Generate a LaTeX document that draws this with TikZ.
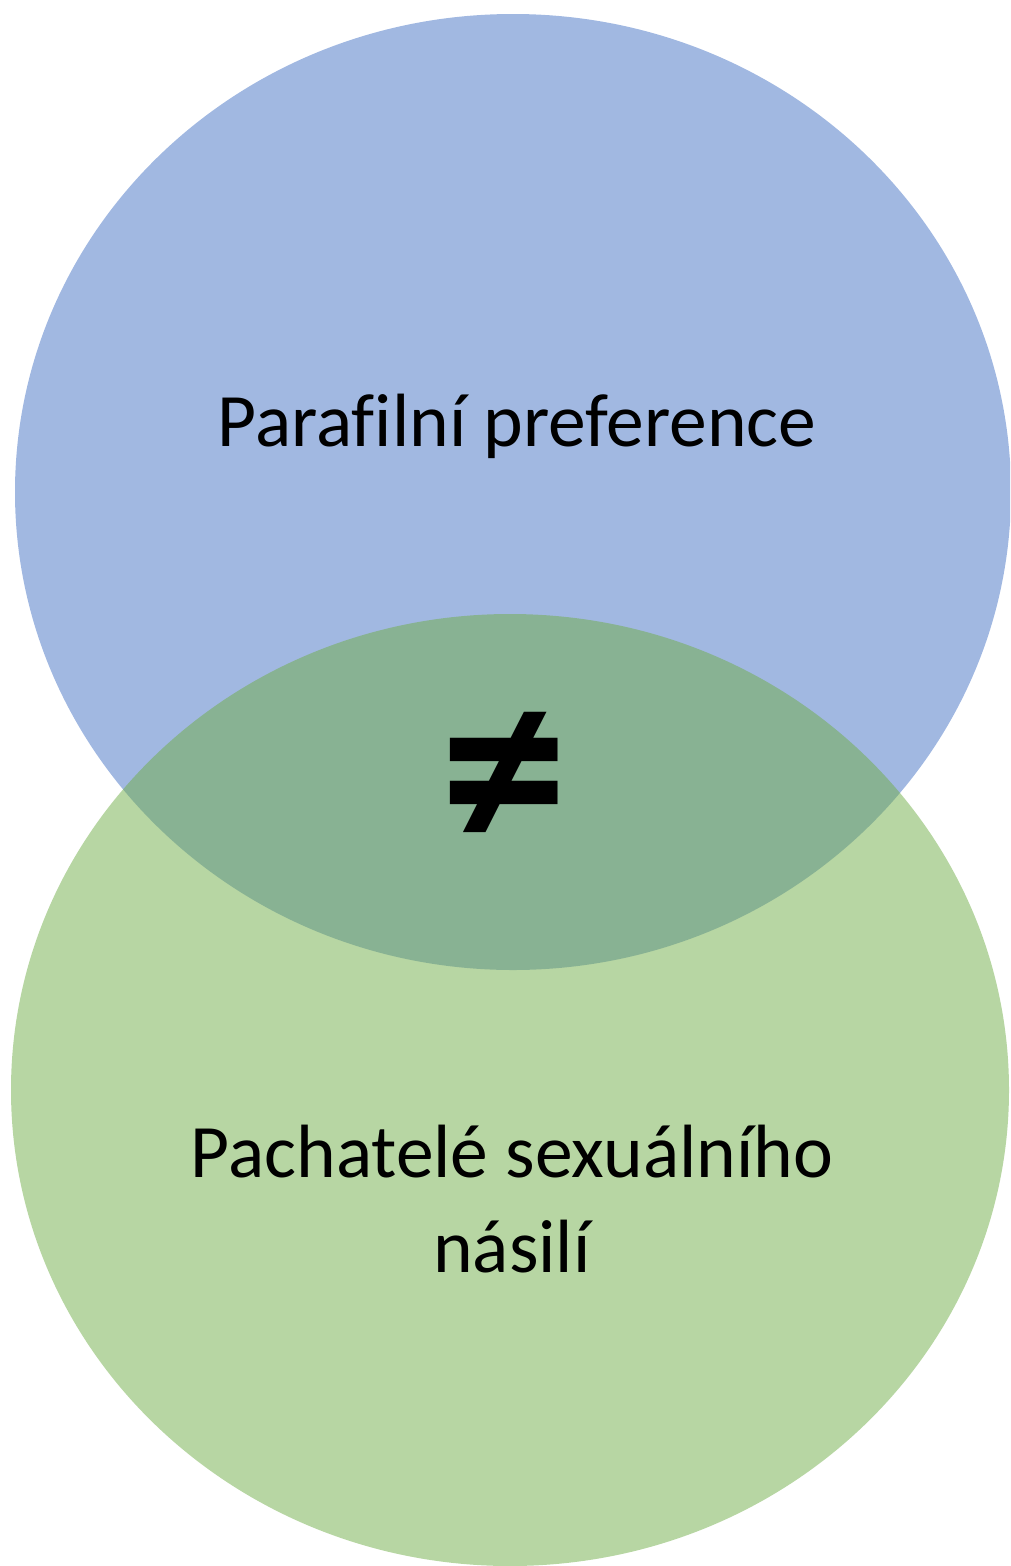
\documentclass[tikz,border=0pt]{standalone}
\usepackage{fontspec}
\setmainfont{Carlito}[Ligatures=NoCommon]
\definecolor{setblue}{HTML}{4472C4}
\definecolor{setgreen}{HTML}{70AD47}
\tikzset{
  setfill/.style={fill=#1, fill opacity=0.5, draw=none},
  settext/.style={text=black, font=\fontsize{75.5}{95}\selectfont, inner sep=0pt, align=center},
  neqtext/.style={text=black, font=\fontsize{256}{300}\selectfont\bfseries, inner sep=0pt}
}
\begin{document}
\begin{tikzpicture}[x=1pt,y=-1pt]
\useasboundingbox (0,0) rectangle (1010,1566);
\clip (0,0) rectangle (1010,1566);
\fill[setfill=setblue] (513,492) ellipse [x radius=498, y radius=478];
\fill[setfill=setgreen] (510,1090) ellipse [x radius=499, y radius=476];
\node[settext, anchor=base] (para) at (517,446) {Parafilní preference};
\node[settext] (pach) at (512,1199) {Pachatelé sexuálního\\násilí};
\node[neqtext] (neq) at (504,782) {≠};
\end{tikzpicture}
\end{document}
